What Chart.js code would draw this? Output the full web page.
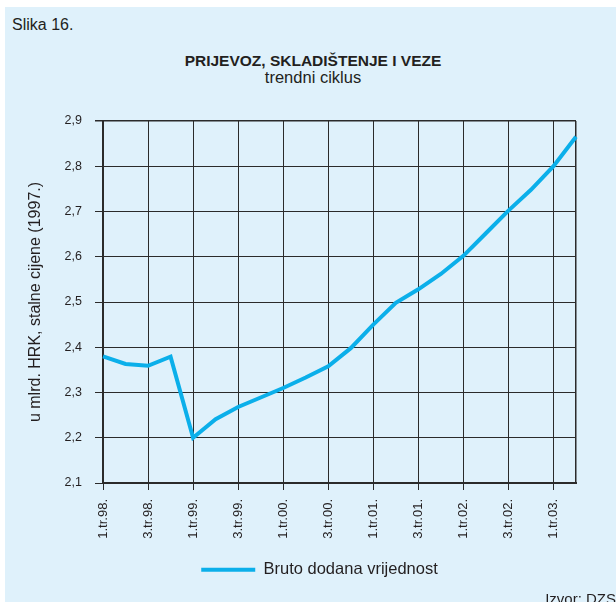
<!DOCTYPE html>
<html>
<head>
<meta charset="utf-8">
<script src="https://cdn.jsdelivr.net/npm/chart.js@4.4.1/dist/chart.umd.min.js"></script>
<style>
  html, body { margin: 0; padding: 0; background: #fff; }
  body { width: 616px; height: 603px; position: relative; overflow: hidden;
         font-family: "Liberation Sans", Arial, sans-serif; color: #231f20; }
  #panel { position: absolute; left: 5px; top: 7px; width: 611px; height: 595px;
           background: #dff1fb; overflow: hidden; }
  .txt { position: absolute; line-height: 1; white-space: nowrap; }
  #slika { left: 7px; top: 9.5px; font-size: 16px; }
  #title { left: 158px; width: 300px; text-align: center; top: 45.5px; font-size: 15.5px; font-weight: bold; }
  #subtitle { left: 158px; width: 300px; text-align: center; top: 62.3px; font-size: 16.5px; }
  #izvor { right: 0; top: 584px; font-size: 15px; }
  #wrap { position: absolute; left: 0; top: 0; width: 611px; height: 595px; }
</style>
</head>
<body>
<div id="panel">
  <div class="txt" id="slika">Slika 16.</div>
  <div class="txt" id="title">PRIJEVOZ, SKLADIŠTENJE I VEZE</div>
  <div class="txt" id="subtitle">trendni ciklus</div>
  <div id="wrap"><canvas id="chart"></canvas></div>
  <div class="txt" id="izvor">Izvor: DZS</div>
</div>
<script>
const quarters = [
  "1.tr.98.", "2.tr.98.", "3.tr.98.", "4.tr.98.",
  "1.tr.99.", "2.tr.99.", "3.tr.99.", "4.tr.99.",
  "1.tr.00.", "2.tr.00.", "3.tr.00.", "4.tr.00.",
  "1.tr.01.", "2.tr.01.", "3.tr.01.", "4.tr.01.",
  "1.tr.02.", "2.tr.02.", "3.tr.02.", "4.tr.02.",
  "1.tr.03.", "2.tr.03."
];
const brutoDodana = [
  2.380, 2.363, 2.359, 2.379,
  2.200, 2.241, 2.268, 2.289,
  2.310, 2.333, 2.358, 2.398,
  2.450, 2.498, 2.528, 2.562,
  2.602, 2.652, 2.702, 2.748,
  2.800, 2.865
];
const seriesName = "Bruto dodana vrijednost";
const yTitle = "u mlrd. HRK, stalne cijene (1997.)";

const lineColor = "#0bafea";
const inkColor = "#231f20";
const gridColor = "#2b2b2b";
const fontFamily = '"Liberation Sans", Arial, sans-serif';
const lastIndex = quarters.length - 1;

// only every second quarter gets a label and a grid line
const isShown = (i) => i % 2 === 0;

new Chart(document.getElementById("chart"), {
  type: "line",
  data: {
    labels: quarters,
    datasets: [{
      label: seriesName,
      data: brutoDodana,
      borderColor: lineColor,
      backgroundColor: lineColor,
      borderWidth: 4,
      pointRadius: 0,
      tension: 0,
      fill: false,
    }],
  },
  options: {
    responsive: true,
    maintainAspectRatio: false,
    animation: false,
    layout: { padding: { left: 58, top: 114, right: 40, bottom: 14 } },
    plugins: {
      title: { display: false },
      tooltip: { enabled: false },
      legend: {
        position: "bottom",
        labels: {
          color: inkColor,
          boxWidth: 54,
          boxHeight: 4,
          padding: 10,
          font: { family: fontFamily, size: 16.5 },
          generateLabels: (chart) =>
            Chart.defaults.plugins.legend.labels.generateLabels(chart).map((item) => ({
              ...item, lineWidth: 0, fillStyle: lineColor,
            })),
        },
      },
    },
    scales: {
      x: {
        offset: false,
        afterFit: (scale) => { scale.height = 68.5; },
        border: { display: true, color: gridColor, width: 2 },
        grid: {
          color: (ctx) => (isShown(ctx.index) || ctx.index === lastIndex ? gridColor : "transparent"),
          tickColor: (ctx) => (isShown(ctx.index) ? gridColor : "transparent"),
          lineWidth: (ctx) => (ctx.index === lastIndex ? 1.5 : 1),
          tickLength: 7,
        },
        ticks: {
          autoSkip: false,
          maxRotation: 90,
          minRotation: 90,
          padding: 9,
          color: inkColor,
          font: { family: fontFamily, size: 13 },
          callback: (value, index) => (isShown(index) ? quarters[index] : ""),
        },
      },
      y: {
        min: 2.1,
        max: 2.9,
        afterFit: (scale) => { scale.width = 40; },
        border: { display: true, color: gridColor, width: 2 },
        grid: {
          color: gridColor,
          lineWidth: (ctx) => (ctx.index === 8 ? 1.5 : 1),
          tickLength: 8,
        },
        ticks: {
          stepSize: 0.1,
          padding: 13,
          color: inkColor,
          font: { family: fontFamily, size: 12.5 },
          callback: (value) => value.toFixed(1).replace(".", ","),
        },
        title: {
          display: true,
          text: yTitle,
          color: inkColor,
          font: { family: fontFamily, size: 16 },
          padding: { top: -36.6, bottom: 0 },
        },
      },
    },
  },
});
</script>
</body>
</html>
